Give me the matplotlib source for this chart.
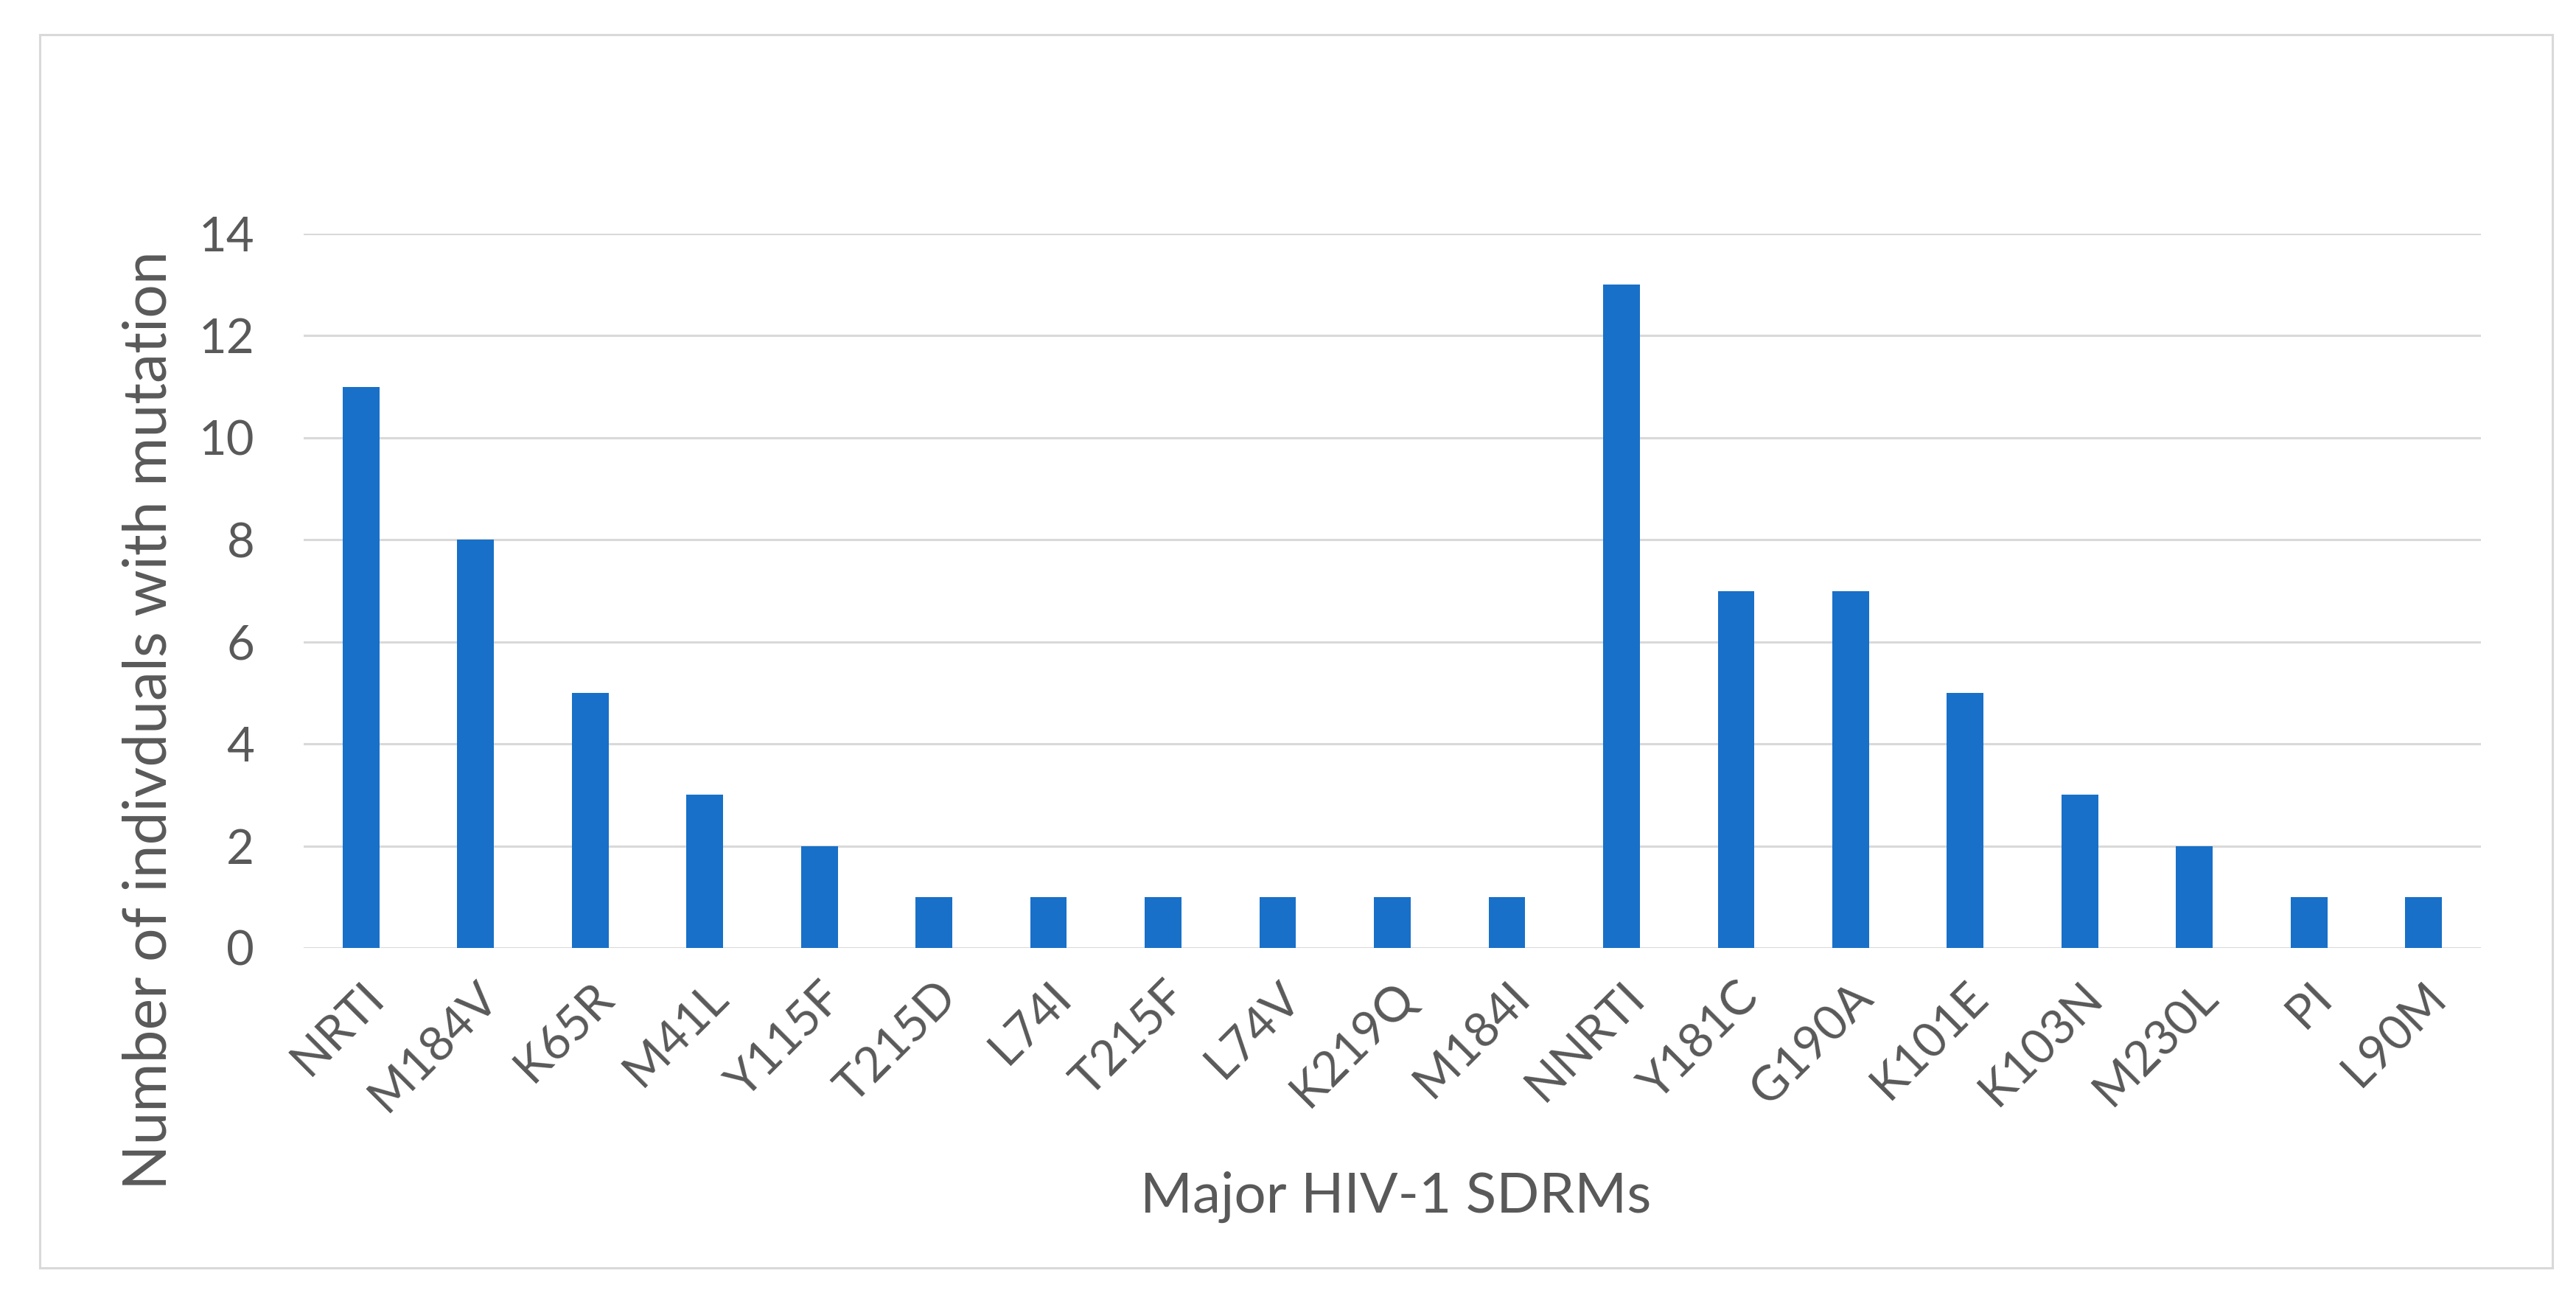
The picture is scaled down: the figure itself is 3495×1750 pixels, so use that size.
import matplotlib
matplotlib.use("Agg")
import matplotlib.pyplot as plt
from matplotlib.patches import Rectangle

# major HIV-1 surveillance drug resistance mutations
mutations = ["NRTI", "M184V", "K65R", "M41L", "Y115F", "T215D", "L74I", "T215F",
             "L74V", "K219Q", "M184I", "NNRTI", "Y181C", "G190A", "K101E",
             "K103N", "M230L", "PI", "L90M"]
counts = [11, 8, 5, 3, 2, 1, 1, 1, 1, 1, 1, 13, 7, 7, 5, 3, 2, 1, 1]
yticks = [0, 2, 4, 6, 8, 10, 12, 14]

bar_color = "#1870c8"
text_color = "#595959"
grid_color = "#d9d9d9"

plt.rcParams["font.family"] = ["Lato", "DejaVu Sans"]

W, H = 3495, 1750
fig = plt.figure(figsize=(W / 100, H / 100), dpi=100)
ax = fig.add_axes([412 / W, 1 - 1286 / H, (3366 - 412) / W, (1286 - 317) / H])

x = range(len(mutations))
ax.bar(x, counts, width=0.32, color=bar_color, zorder=3)

ax.set_xlim(-0.5, len(mutations) - 0.5)
ax.set_ylim(0, 14)
ax.set_yticks(yticks)
ax.set_xticks(list(x))
ax.set_xticklabels(mutations, rotation=45, ha="right", rotation_mode="anchor")
ax.tick_params(axis="both", length=0, labelsize=47, colors=text_color)
ax.tick_params(axis="y", pad=48)
ax.tick_params(axis="x", pad=26)

ax.yaxis.grid(True, color=grid_color, linewidth=2.2, zorder=0)
for s in ax.spines.values():
    s.set_visible(False)

fig.text(240 / W, 1 - 977 / H, "Number of indivduals with mutation", rotation=90,
         ha="right", va="center", fontsize=58, color=text_color)
fig.text(1894 / W, 1 - 1645 / H, "Major HIV-1 SDRMs", ha="center", va="baseline",
         fontsize=55, color=text_color)

# outer chart border
fig.patches.append(Rectangle((54 / W, 1 - 1720 / H), (3463 - 54) / W, (1720 - 47) / H,
                             transform=fig.transFigure, fill=False,
                             edgecolor=grid_color, linewidth=2.2))

fig.savefig("out.png", dpi=100, facecolor="white")
